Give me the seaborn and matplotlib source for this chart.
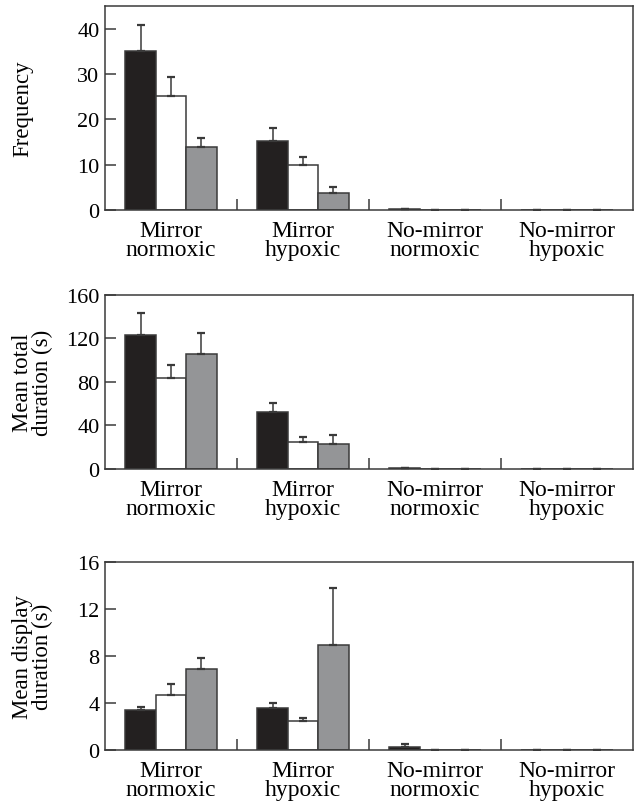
import numpy as np
import pandas as pd
import matplotlib
matplotlib.use("Agg")
import matplotlib.pyplot as plt
import seaborn as sns

# ---- data ----
groups = ["Mirror\nnormoxic", "Mirror\nhypoxic", "No-mirror\nnormoxic", "No-mirror\nhypoxic"]
treatments = ["T1", "T2", "T3"]

freq_mean = [[35.1, 25.1, 13.8], [15.2, 9.9, 3.8], [0.2, 0.0, 0.0], [0.0, 0.0, 0.0]]
freq_top = [[40.8, 29.4, 15.9], [18.0, 11.8, 5.0], [0.2, 0.0, 0.0], [0.0, 0.0, 0.0]]

total_mean = [[123.0, 84.0, 106.0], [52.0, 25.0, 23.3], [0.5, 0.0, 0.0], [0.0, 0.0, 0.0]]
total_top = [[143.5, 96.0, 125.5], [61.0, 29.0, 31.5], [0.5, 0.0, 0.0], [0.0, 0.0, 0.0]]

disp_mean = [[3.39, 4.66, 6.92], [3.53, 2.46, 8.93], [0.28, 0.0, 0.0], [0.0, 0.0, 0.0]]
disp_top = [[3.64, 5.65, 7.82], [3.98, 2.71, 13.8], [0.54, 0.0, 0.0], [0.0, 0.0, 0.0]]

ylabels = ["Frequency", "Mean total\nduration (s)", "Mean display\nduration (s)"]
ylims = [45, 160, 16]
yticks = [[0, 10, 20, 30, 40], [0, 40, 80, 120, 160], [0, 4, 8, 12, 16]]

colors = ["#231f20", "#ffffff", "#939598"]
edge = "#3a3a3a"

plt.rcParams["font.family"] = ["Liberation Serif", "DejaVu Serif"]
plt.rcParams["font.size"] = 16

fig = plt.figure(figsize=(6.35, 8.03), dpi=100)
boxes = [[0.1654, 0.7372, 0.8315, 0.2540],
         [0.1654, 0.4147, 0.8315, 0.2167],
         [0.1654, 0.0648, 0.8315, 0.2341]]


def make_df(means, tops):
    rows = []
    for g, m, t in zip(groups, means, tops):
        for tr, mv, tv in zip(treatments, m, t):
            rows.append({"group": g, "treatment": tr, "value": mv, "top": tv})
    return pd.DataFrame(rows)


panels = [make_df(freq_mean, freq_top), make_df(total_mean, total_top), make_df(disp_mean, disp_top)]

for i, df in enumerate(panels):
    ax = fig.add_axes(boxes[i])
    sns.barplot(data=df, x="group", y="value", hue="treatment", order=groups,
                hue_order=treatments, palette=colors, width=0.69, errorbar=None,
                edgecolor=edge, linewidth=1.1, legend=False, ax=ax)
    # upper error bars from the drawn bar positions
    bar_conts = list(ax.containers)
    for j, cont in enumerate(bar_conts):
        sub = df[df["treatment"] == treatments[j]].set_index("group").loc[groups]
        xs = [b.get_x() + b.get_width() / 2 for b in cont]
        vals = sub["value"].values
        ups = sub["top"].values - vals
        ax.errorbar(xs, vals, yerr=[np.zeros_like(ups), ups], fmt="none",
                    ecolor=edge, elinewidth=1.1, capsize=3, capthick=1.6, zorder=3)

    ax.set_xlim(-0.5, 3.5)
    ax.set_ylim(0, ylims[i])
    ax.set_yticks(yticks[i])
    ax.set_xlabel("")
    ax.set_ylabel(ylabels[i], fontsize=16.5, linespacing=0.95)
    ax.yaxis.set_label_coords(-0.098 if "\n" in ylabels[i] else -0.136, 0.5)
    ax.set_xticks([0.5, 1.5, 2.5], minor=True)
    ax.tick_params(axis="x", which="major", length=0, pad=7, labelsize=17)
    ax.tick_params(axis="x", which="minor", direction="in", length=8, width=1.1, color=edge)
    ax.tick_params(axis="y", direction="in", length=8, width=1.1, color=edge, labelsize=16, pad=4)
    for lbl in ax.get_xticklabels():
        lbl.set_linespacing(0.92)
    for sp in ax.spines.values():
        sp.set_color(edge)
        sp.set_linewidth(1.1)

fig.savefig("out.png", dpi=100)
